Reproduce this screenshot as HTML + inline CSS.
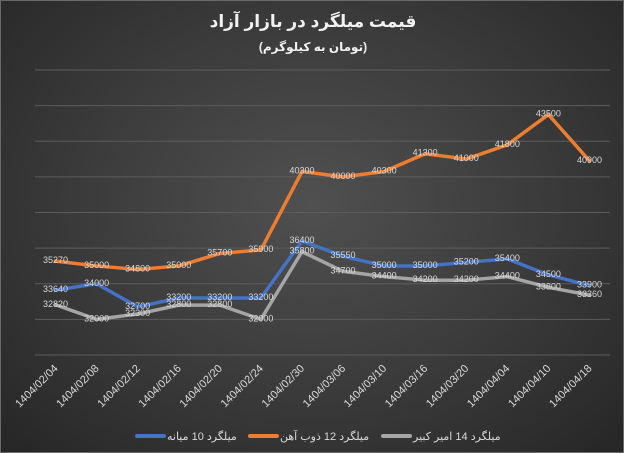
<!DOCTYPE html>
<html><head><meta charset="utf-8"><style>
body{margin:0;background:#2b2b2b}
#c{width:624px;height:453px;position:relative;overflow:hidden;background:radial-gradient(ellipse at 50% 45%,#505050 0%,#3c3c3c 50%,#262626 100%);box-sizing:border-box;border:1px solid #6a6a6a}
text{font-family:"Liberation Sans","DejaVu Sans",sans-serif}
</style></head><body>
<div id="c">
<svg id="s" width="624" height="453">
<text x="312" y="26" text-anchor="middle" fill="#f2f2f2" font-size="17" font-weight="bold">قیمت میلگرد در بازار آزاد</text>
<text x="312" y="50" text-anchor="middle" fill="#f2f2f2" font-size="12" font-weight="bold">(تومان به کیلوگرم)</text>
<g id="grid"></g><g id="xl"></g><g id="lines"></g><g id="labels"></g>
<g>
<g><line x1="136" y1="435" x2="163" y2="435" stroke="#4472c4" stroke-width="4" stroke-linecap="round"/><text x="166" y="439" fill="#d9d9d9" font-size="11">میلگرد 10 میانه</text></g>
<g><line x1="249" y1="435" x2="276" y2="435" stroke="#ed7d31" stroke-width="4" stroke-linecap="round"/><text x="279" y="439" fill="#d9d9d9" font-size="11">میلگرد 12 ذوب آهن</text></g>
<g><line x1="382" y1="435" x2="409" y2="435" stroke="#a5a5a5" stroke-width="4" stroke-linecap="round"/><text x="412" y="439" fill="#d9d9d9" font-size="11">میلگرد 14 امیر کبیر</text></g>
</g>
</svg></div>
<script>
const categories=["1404/02/04","1404/02/08","1404/02/12","1404/02/16","1404/02/20","1404/02/24","1404/02/30","1404/03/06","1404/03/10","1404/03/16","1404/03/20","1404/04/04","1404/04/10","1404/04/18"];
const series10=[33640,34000,32700,33200,33200,33200,36400,35550,35000,35000,35200,35400,34500,33900];
const series12=[35270,35000,34800,35000,35700,35900,40300,40000,40300,41300,41000,41800,43500,40900];
const series14=[32820,32000,32300,32800,32800,32000,35800,34700,34400,34200,34200,34400,33800,33360];
const yTicks=[30000,32000,34000,36000,38000,40000,42000,44000,46000];
const NS='http://www.w3.org/2000/svg';
const L=34,R=609,T=69,B=354,ymin=30000,ymax=46000;
const bw=(R-L)/categories.length;
const x=i=>L+bw*(i+0.5);
const y=v=>B-(v-ymin)/(ymax-ymin)*(B-T);
function mk(t,a,p){const e=document.createElementNS(NS,t);for(const k in a)e.setAttribute(k,a[k]);p.appendChild(e);return e;}
const g=document.getElementById('grid');
yTicks.forEach(v=>{const l=mk('line',{x1:L,x2:R,y1:y(v),y2:y(v),stroke:'#5c5c5c','stroke-width':1},g);

});
const xl=document.getElementById('xl');
categories.forEach((c,i)=>{const t=mk('text',{x:x(i)+3,y:368,'text-anchor':'end',fill:'#d9d9d9','font-size':11,transform:`rotate(-45 ${x(i)+3} 368)`},xl);t.textContent=c;

});
const ln=document.getElementById('lines'),lb=document.getElementById('labels');
[[series14,'#a5a5a5','series-14'],[series10,'#4472c4','series-10'],[series12,'#ed7d31','series-12']].forEach(([d,col,n])=>{
const p=mk('polyline',{points:d.map((v,i)=>x(i)+','+y(v)).join(' '),fill:'none',stroke:col,'stroke-width':3.5,'stroke-linejoin':'round','stroke-linecap':'round'},ln);


d.forEach((v,i)=>{const t=mk('text',{x:x(i),y:y(v)+2,'text-anchor':'middle',fill:'#d9d9d9','font-size':9},lb);t.textContent=v;

});
});
</script>
</body></html>
